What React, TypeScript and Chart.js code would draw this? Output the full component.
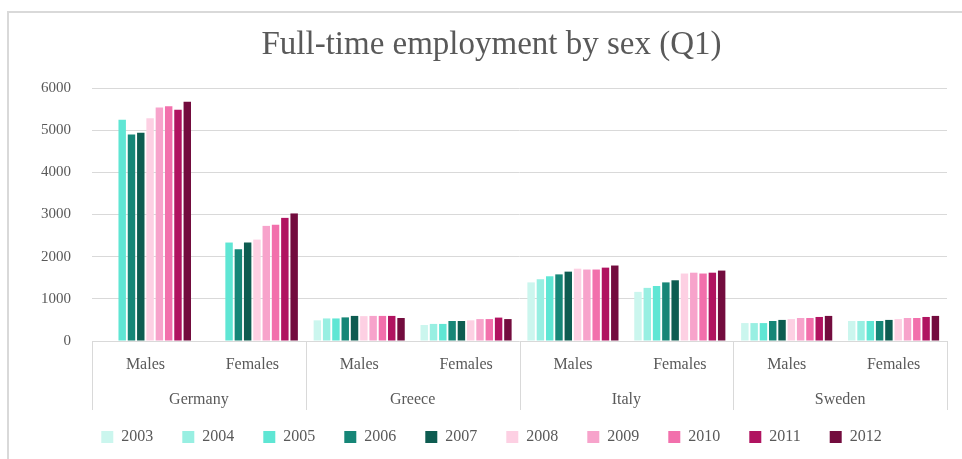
import React, { useEffect, useRef } from "react";
import { Chart, registerables } from "chart.js";

Chart.register(...registerables);

const countries = ["Germany", "Greece", "Italy", "Sweden"];
const sexes = ["Males", "Females"];
const years = ["2003", "2004", "2005", "2006", "2007", "2008", "2009", "2010", "2011", "2012"];
const yTickStep = 1000;
const yMax = 6000;

// values per category: Germany M, Germany F, Greece M, Greece F, Italy M, Italy F, Sweden M, Sweden F
const s2003 = [null, null, 490, 380, 1390, 1165, 425, 475];
const s2004 = [null, null, 535, 405, 1465, 1260, 425, 475];
const s2005 = [5250, 2335, 535, 405, 1535, 1305, 425, 475];
const s2006 = [4895, 2175, 560, 475, 1580, 1390, 475, 475];
const s2007 = [4940, 2335, 595, 475, 1645, 1440, 500, 500];
const s2008 = [5285, 2405, 590, 490, 1715, 1600, 520, 520];
const s2009 = [5540, 2730, 595, 520, 1695, 1620, 545, 545];
const s2010 = [5565, 2755, 595, 520, 1695, 1600, 545, 545];
const s2011 = [5485, 2920, 595, 555, 1740, 1620, 570, 570];
const s2012 = [5675, 3025, 545, 520, 1790, 1670, 595, 595];

const series = [s2003, s2004, s2005, s2006, s2007, s2008, s2009, s2010, s2011, s2012];
const colors = [
  "#cbf6ee", "#98efe2", "#5fe6d4", "#168677", "#0e5c51",
  "#fdd0e3", "#f7a3cb", "#f270ac", "#b01360", "#730c3e",
];

const FONT = "'Liberation Serif', 'DejaVu Serif', serif";
const TEXT = "#595959";
const GRID = "#d9d9d9";

const categoryLabels = countries.flatMap(() => sexes);

const groupPlugin = {
  id: "groupAxis",
  beforeDraw(chart: any) {
    const ctx = chart.ctx;
    ctx.save();
    ctx.strokeStyle = GRID;
    ctx.lineWidth = 2;
    ctx.beginPath();
    ctx.moveTo(8, chart.height + 5);
    ctx.lineTo(8, 12);
    ctx.lineTo(chart.width + 5, 12);
    ctx.stroke();
    ctx.restore();
  },
  afterDraw(chart: any) {
    const ctx = chart.ctx;
    const x = chart.scales.x;
    const area = chart.chartArea;
    ctx.save();
    ctx.strokeStyle = GRID;
    ctx.lineWidth = 1;
    const n = countries.length;
    for (let k = 0; k <= n; k++) {
      const px = Math.round(x.left + (k * (x.right - x.left)) / n) + 0.5;
      ctx.beginPath();
      ctx.moveTo(px, area.bottom);
      ctx.lineTo(px, area.bottom + 69);
      ctx.stroke();
    }
    ctx.fillStyle = TEXT;
    ctx.font = `16px ${FONT}`;
    ctx.textAlign = "center";
    ctx.textBaseline = "middle";
    countries.forEach((c, i) => {
      const a = x.getPixelForValue(i * 2);
      const b = x.getPixelForValue(i * 2 + 1);
      ctx.fillText(c, (a + b) / 2, area.bottom + 59);
    });
    ctx.restore();
  },
};

export default function App() {
  const ref = useRef<HTMLCanvasElement | null>(null);
  useEffect(() => {
    if (!ref.current) return;
    const chart = new Chart(ref.current, {
      type: "bar",
      data: {
        labels: categoryLabels,
        datasets: years.map((y, i) => ({
          label: y,
          data: series[i],
          backgroundColor: colors[i],
          borderWidth: 0,
          categoryPercentage: 0.87,
          barPercentage: 0.8,
        })),
      },
      options: {
        responsive: false,
        animation: false,
        layout: { padding: { left: 36, right: 15, top: 0, bottom: 4 } },
        plugins: {
          title: {
            display: true,
            text: "Full-time employment by sex (Q1)",
            color: TEXT,
            font: { family: FONT, size: 33, weight: "normal" },
            padding: { top: 26, bottom: 22.4 },
          },
          legend: {
            position: "bottom",
            labels: {
              boxWidth: 12,
              boxHeight: 12,
              padding: 29,
              color: TEXT,
              font: { family: FONT, size: 16 },
            },
          },
          tooltip: { enabled: false },
        },
        scales: {
          x: {
            grid: { display: false, drawTicks: false },
            border: { display: false },
            ticks: { color: TEXT, font: { family: FONT, size: 16 }, padding: 14, maxRotation: 0, autoSkip: false },
            afterFit: (s: any) => { s.height = 59; },
          },
          y: {
            min: 0,
            max: yMax,
            ticks: {
              stepSize: yTickStep,
              color: TEXT,
              font: { family: FONT, size: 15 },
              padding: 21,
              callback: (v: any) => String(v),
            },
            grid: { color: GRID, drawTicks: false },
            border: { display: false },
            afterFit: (s: any) => { s.width = 56; },
          },
        },
      },
      plugins: [groupPlugin],
    });
    return () => chart.destroy();
  }, []);
  return (
    <div style={{ position: "absolute", left: 0, top: 0, width: 962, height: 459, background: "#fff" }}>
      <canvas ref={ref} width={962} height={459} style={{ display: "block" }} />
    </div>
  );
}
